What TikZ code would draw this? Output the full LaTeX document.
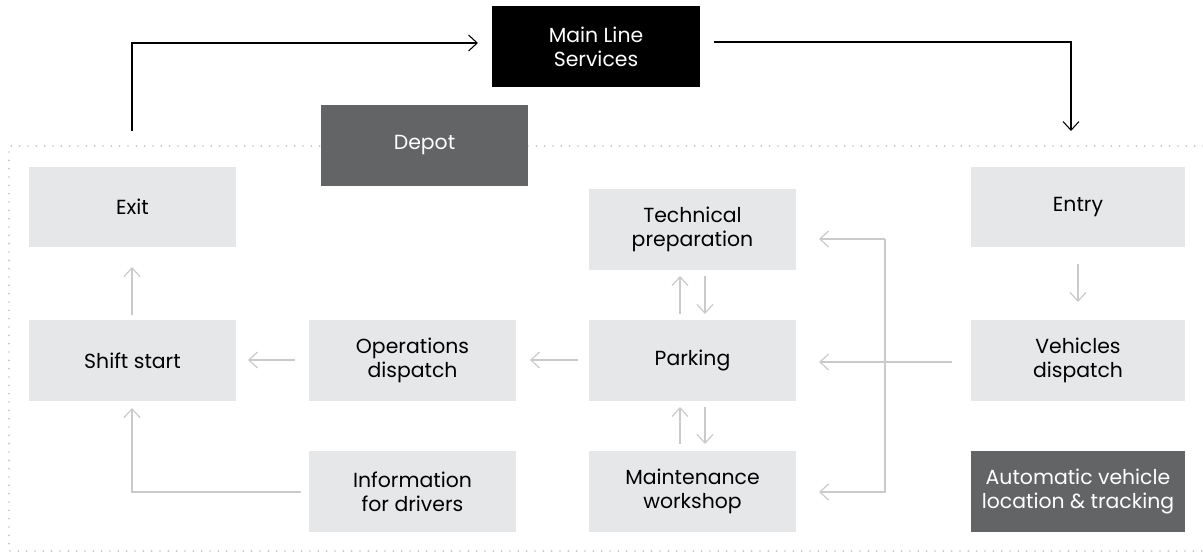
\documentclass[tikz,border=0pt]{standalone}
\usepackage{fontspec}
\setmainfont{Poppins}
\usetikzlibrary{arrows.meta}
\definecolor{boxgray}{HTML}{E6E7E8}
\definecolor{darkbox}{HTML}{636466}
\definecolor{arrowgray}{HTML}{CACACA}
\definecolor{dotgray}{HTML}{C4C4C4}
\tikzset{
  basebox/.style={rectangle, minimum width=155.25pt, minimum height=60.75pt, inner sep=0pt, align=center, font=\fontsize{15.3}{18}\selectfont},
  lightbox/.style={basebox, fill=boxgray, text=black},
  widebox/.style={lightbox, minimum width=160.5pt},
  darkgraybox/.style={basebox, fill=darkbox, text=white},
  blackbox/.style={basebox, fill=black, text=white},
  flow/.style={draw=arrowgray, line width=0.9pt, -{Straight Barb[length=6.5pt,width=12pt,line width=0.9pt]}},
  mainflow/.style={draw=black, line width=0.8pt, -{Straight Barb[length=6.5pt,width=12pt,line width=0.8pt]}},
  dotframe/.style={draw=dotgray, line width=1.4pt, line cap=round, dash pattern=on 0pt off 6.25pt},
}
\begin{document}
\begin{tikzpicture}[x=0.75pt,y=-0.75pt]
\useasboundingbox (0,0) rectangle (1203,553);
% dotted depot frame
\draw[dotframe] (1203,146) -- (9,146) -- (9,551) -- (1203,551);

% nodes
\node[blackbox, minimum width=156pt] (mls) at (596,46.5) {Main Line\\Services};
\node[darkgraybox] (depot) at (424.5,145.5) {Depot};
\node[lightbox, minimum height=60pt] (exit) at (132.5,207) {Exit};
\node[lightbox] (shift) at (132.5,360.5) {Shift start};
\node[lightbox] (ops) at (412.5,360.5) {Operations\\dispatch};
\node[lightbox] (info) at (412.5,491.5) {Information\\for drivers};
\node[lightbox] (tech) at (692.5,229.5) {Technical\\preparation};
\node[lightbox] (park) at (692.5,360.5) {Parking};
\node[lightbox] (maint) at (692.5,491.5) {Maintenance\\workshop};
\node[widebox, minimum height=60pt] (entry) at (1078,207) {Entry};
\node[widebox] (veh) at (1078,360.5) {Vehicles\\dispatch};
\node[darkgraybox, minimum width=160.5pt] (avl) at (1078,491.5) {Automatic vehicle\\location \& tracking};

% helper coordinates
\coordinate (exittop) at (132,131);
\coordinate (exitcorner) at (132,43);
\coordinate (mlsin) at (478,43);
\coordinate (mlsout) at (714,42);
\coordinate (entrycorner) at (1071,42);
\coordinate (entryin) at (1071,131);
\coordinate (jtop) at (885,239);
\coordinate (jbot) at (885,492);
\coordinate (infocorner) at (132,492);

% main line connectors
\draw[mainflow] (exittop) -- (exitcorner) -- (mlsin);
\draw[mainflow] (mlsout) -- (entrycorner) -- (entryin);

% depot connectors
\draw[flow] (132,315) -- (132,267);
\draw[flow] (1078,264) -- (1078,302);
\draw[flow] (295,360) -- (248,360);
\draw[flow] (577.7,360) -- (530,360);
\draw[flow] (952,362) -- (819,362);
\draw[flow] (jtop) -- (819,239);
\draw[flow] (jtop) -- (jbot) -- (819,492);
\draw[flow] (301,492) -- (infocorner) -- (132,408);
% tech <-> parking
\draw[flow] (680,314) -- (680,276);
\draw[flow] (705,276) -- (705,314);
% parking <-> maintenance
\draw[flow] (680,444) -- (680,407);
\draw[flow] (705,407) -- (705,444);
\end{tikzpicture}
\end{document}
